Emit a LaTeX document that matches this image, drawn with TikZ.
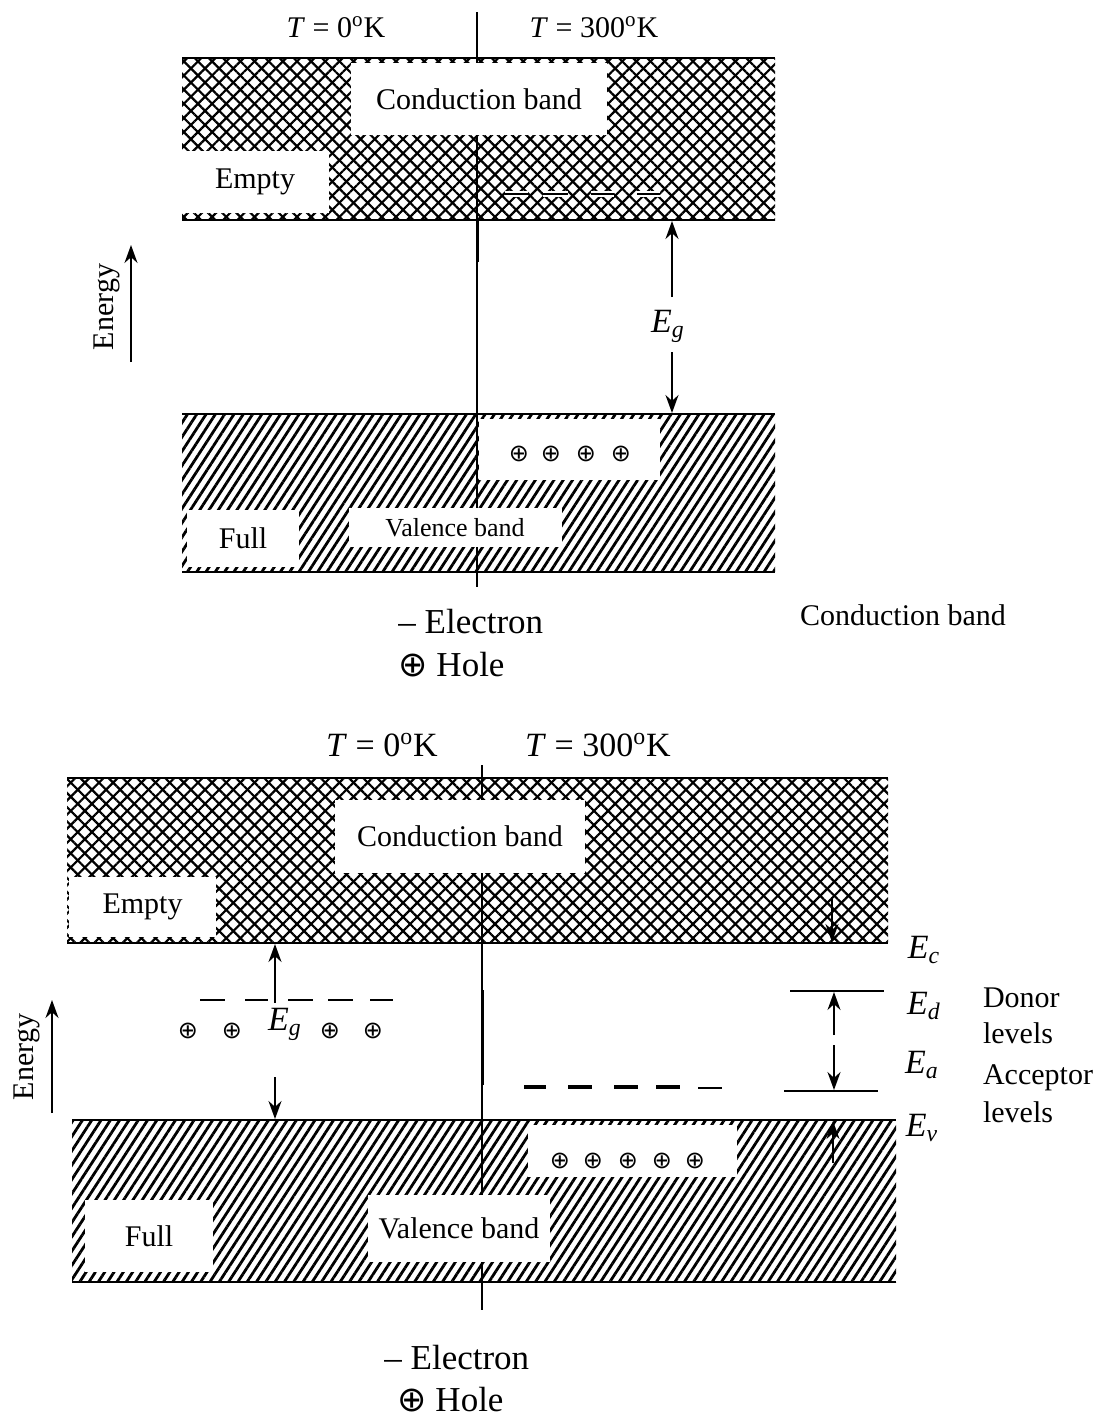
\documentclass[tikz,border=0pt]{standalone}
\usepackage{fontspec}
\setmainfont{Liberation Serif}
\newfontfamily\symfont{DejaVu Sans}
\usepackage{tikz}
\usetikzlibrary{patterns.meta,arrows.meta}

\begin{document}
\begin{tikzpicture}[x=0.5pt, y=-0.5pt,
  xhatch/.style={pattern={Lines[angle=45,distance=5pt,line width=1.1pt]}},
  yhatch/.style={pattern={Lines[angle=-45,distance=5pt,line width=1.1pt]}},
  vhatch/.style={pattern={Lines[angle=57,distance=3.9pt,line width=1.4pt]}},
  bandline/.style={line width=1.1pt},
  divline/.style={line width=0.7pt},
  wbox/.style={fill=white, inner sep=0pt, font=\fontsize{15}{17}\selectfont},
  lbl/.style={font=\fontsize{15}{17}\selectfont},
  big/.style={font=\fontsize{17.5}{20}\selectfont},
  elbl/.style={font=\fontsize{17}{19}\selectfont},
  hole/.style={font=\symfont\fontsize{12}{12}\selectfont, inner sep=0pt},
  arr/.style={-{Stealth[length=9pt,width=6.5pt]}, line width=0.9pt},
  elec/.style={line width=1.1pt}
]
  \useasboundingbox (0,0) rectangle (1107,1419);

  % ---- intrinsic ----
  \node[lbl] (tzeroA) at (336,27)  {\textit{T} = 0\textsuperscript{o}K};
  \node[lbl] (thotA)  at (594,27)  {\textit{T} = 300\textsuperscript{o}K};

  \fill[xhatch] (182,58) rectangle (775,220);
  \fill[yhatch] (182,58) rectangle (775,220);
  \fill[vhatch] (182,414) rectangle (775,572);

  \coordinate (midAt) at (477,12);
  \coordinate (midAb) at (477,587);
  \draw[divline] (midAt) -- (midAb);
  \draw[line width=1.5pt] (477,220) -- (477,262);

  \node[wbox, minimum width=128pt, minimum height=36pt] (cbandA) at (479,99) {Conduction band};
  \node[wbox, minimum width=73.5pt, minimum height=31pt] (emptyA) at (255,182) {Empty};
  \node[wbox, minimum width=90.5pt, minimum height=30.5pt] (holesA) at (569.5,449.5) {};
  \node[wbox, minimum width=56pt, minimum height=28.5pt] (fullA) at (243,538.5) {Full};
  \node[wbox, minimum width=106.5pt, minimum height=19.5pt,
        font=\fontsize{13}{15}\selectfont] (valA) at (455,527.5) {Valence band};

  \draw[bandline] (182,58) -- (775,58);
  \draw[bandline] (182,220) -- (775,220);
  \draw[bandline] (182,414) -- (775,414);
  \draw[bandline] (182,572) -- (775,572);

  \draw[white, line width=3pt] (505,194) -- (528,194) (543,194) -- (568,194)
    (591,194) -- (614,194) (637,194) -- (660,194);
  \draw[elec] (505,194) -- (528,194) (543,194) -- (568,194)
    (591,194) -- (614,194) (637,194) -- (660,194);

  \node[hole] (hA1) at (519,454) {⊕};
  \node[hole] (hA2) at (551,454) {⊕};
  \node[hole] (hA3) at (586,454) {⊕};
  \node[hole] (hA4) at (621,454) {⊕};

  \node[elbl] (egA) at (668,326) {\textit{E}\textsubscript{\textit{g}}};
  \coordinate (cbA)  at (672,221);
  \coordinate (vbA)  at (672,413);
  \coordinate (egAu) at (672,297);
  \coordinate (egAd) at (672,352);
  \draw[arr] (egAu) -- (cbA);
  \draw[arr] (egAd) -- (vbA);

  \node[lbl, rotate=90] (enA) at (107,307) {Energy};
  \coordinate (enAt) at (131,362);
  \coordinate (enAh) at (131,245);
  \draw[arr] (enAt) -- (enAh);

  \node[big, anchor=west, inner sep=0pt] (elA) at (398,622) {– Electron};
  \node[big, anchor=west, inner sep=0pt] (hoA) at (398,665) {{\symfont ⊕} Hole};
  \node[lbl] (cbandC) at (903,615) {Conduction band};

  % ---- doped ----
  \node[elbl] (tzeroB) at (382,745) {\textit{T} = 0\textsuperscript{o}K};
  \node[elbl] (thotB)  at (598,745) {\textit{T} = 300\textsuperscript{o}K};

  \fill[xhatch] (67,778) rectangle (888,943);
  \fill[yhatch] (67,778) rectangle (888,943);
  \fill[vhatch] (72,1120) rectangle (896,1282);

  \coordinate (midBt) at (482,765);
  \coordinate (midBb) at (482,1310);
  \draw[divline] (midBt) -- (midBb);
  \draw[line width=1.5pt] (482,990) -- (482,1085);

  \node[wbox, minimum width=125pt, minimum height=36.5pt] (cbandB) at (460,836.5) {Conduction band};
  \node[wbox, minimum width=73.5pt, minimum height=30pt] (emptyB) at (142.5,907) {Empty};
  \node[wbox, minimum width=104.5pt, minimum height=26pt] (holesB) at (632.5,1151) {};
  \node[wbox, minimum width=64pt, minimum height=36pt] (fullB) at (149,1236) {Full};
  \node[wbox, minimum width=91pt, minimum height=33.5pt] (valB) at (459,1228.5) {Valence band};

  \draw[bandline] (67,778) -- (888,778);
  \draw[bandline] (67,943) -- (888,943);
  \draw[bandline] (72,1120) -- (896,1120);
  \draw[bandline] (72,1282) -- (896,1282);

  \draw[line width=0.9pt] (200,1000) -- (225,1000) (245,1000) -- (268,1000)
    (288,1000) -- (313,1000) (328,1000) -- (353,1000) (370,1000) -- (393,1000);
  \draw[line width=1.6pt] (524,1087) -- (546,1087) (568,1087) -- (592,1087)
    (614,1087) -- (638,1087) (656,1087) -- (680,1087);
  \draw[line width=0.8pt] (698,1088) -- (722,1088);

  \node[hole] (hB1) at (188,1031) {⊕};
  \node[hole] (hB2) at (232,1031) {⊕};
  \node[hole] (hB3) at (330,1031) {⊕};
  \node[hole] (hB4) at (373,1031) {⊕};

  \node[hole] (hC1) at (560,1161) {⊕};
  \node[hole] (hC2) at (593,1161) {⊕};
  \node[hole] (hC3) at (628,1161) {⊕};
  \node[hole] (hC4) at (662,1161) {⊕};
  \node[hole] (hC5) at (695,1161) {⊕};

  \node[elbl] (egB) at (285,1024) {\textit{E}\textsubscript{\textit{g}}};
  \coordinate (cbB)  at (275,944);
  \coordinate (vbB)  at (275,1119);
  \coordinate (egBu) at (275,1003);
  \coordinate (egBd) at (275,1077);
  \draw[arr] (egBu) -- (cbB);
  \draw[arr] (egBd) -- (vbB);

  % levels
  \coordinate (edL) at (790,991);
  \coordinate (edR) at (884,991);
  \coordinate (eaL) at (784,1091);
  \coordinate (eaR) at (878,1091);
  \draw[line width=0.8pt] (edL) -- (edR);
  \draw[line width=0.8pt] (eaL) -- (eaR);
  \coordinate (edA) at (834,992);
  \coordinate (eaA) at (834,1090);
  \coordinate (gapU) at (834,1035);
  \coordinate (gapD) at (834,1045);
  \draw[arr] (gapU) -- (edA);
  \draw[arr] (gapD) -- (eaA);
  \coordinate (ecS) at (832,897);
  \coordinate (ecA) at (832,942);
  \draw[arr] (ecS) -- (ecA);
  \coordinate (evS) at (833,1163);
  \coordinate (evA) at (833,1121);
  \draw[arr] (evS) -- (evA);

  \node[elbl] (ec) at (924,950)  {\textit{E}\textsubscript{\textit{c}}};
  \node[elbl] (ed) at (924,1006) {\textit{E}\textsubscript{\textit{d}}};
  \node[elbl] (ea) at (922,1065) {\textit{E}\textsubscript{\textit{a}}};
  \node[elbl] (ev) at (922,1128) {\textit{E}\textsubscript{\textit{v}}};
  \node[lbl, anchor=west] (donor)  at (976,998)  {Donor};
  \node[lbl, anchor=west] (dlev)   at (976,1033) {levels};
  \node[lbl, anchor=west] (accep)  at (976,1078) {Acceptor};
  \node[lbl, anchor=west] (alev)   at (976,1112) {levels};

  \node[lbl, rotate=90] (enB) at (27,1057) {Energy};
  \coordinate (enBt) at (52,1113);
  \coordinate (enBh) at (52,1000);
  \draw[arr] (enBt) -- (enBh);

  \node[big, anchor=west, inner sep=0pt] (elB) at (384,1358) {– Electron};
  \node[big, anchor=west, inner sep=0pt] (hoB) at (397,1400) {{\symfont ⊕} Hole};
\end{tikzpicture}
\end{document}
